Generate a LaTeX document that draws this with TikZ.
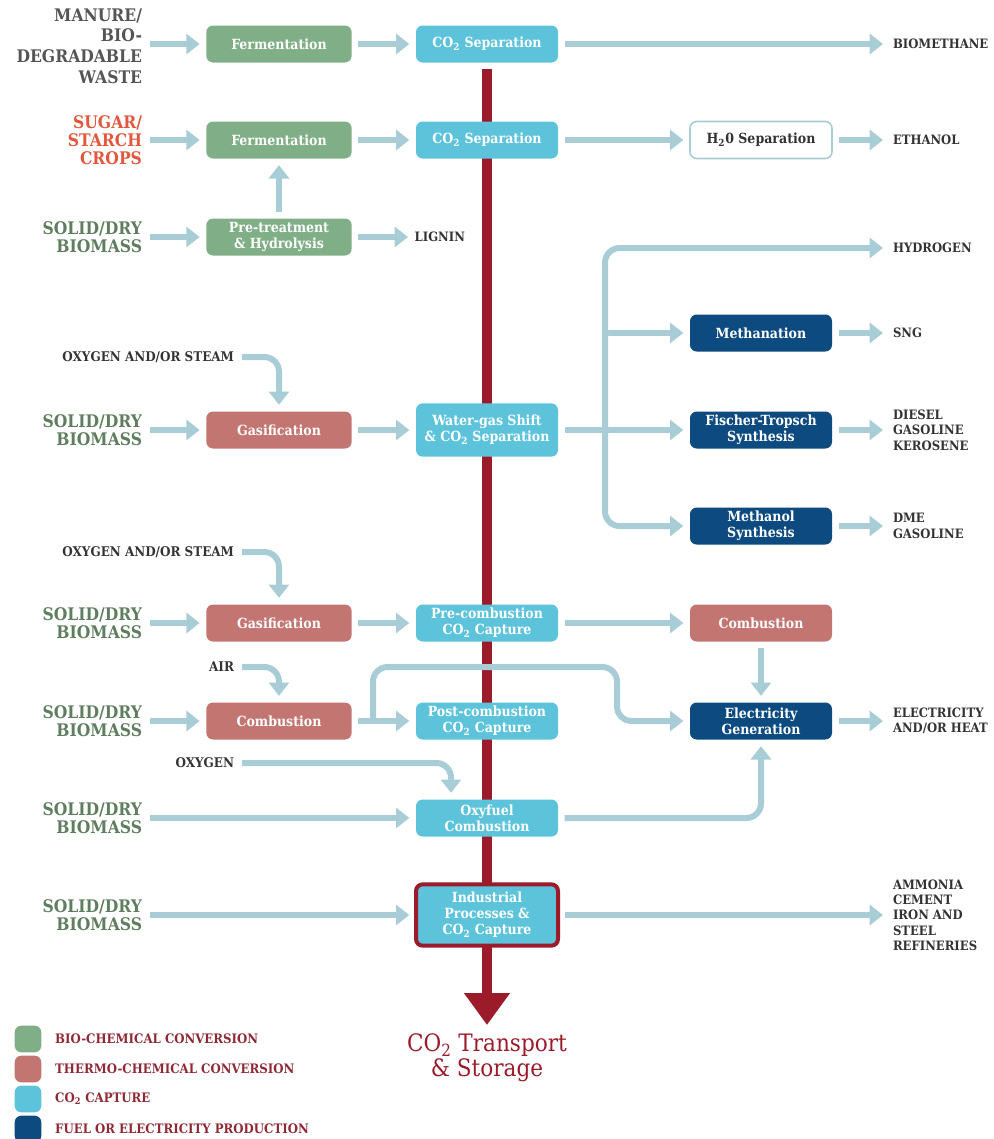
\documentclass[tikz,border=0pt]{standalone}
\usepackage{fontspec}
\setmainfont{DejaVu Serif Condensed}[BoldFont={DejaVu Serif Condensed Bold}]
\usetikzlibrary{arrows.meta,positioning,backgrounds}
\definecolor{BioGreen}{HTML}{80AF87}
\definecolor{ThermoRed}{HTML}{C27571}
\definecolor{CapCyan}{HTML}{5CC3DB}
\definecolor{FuelNavy}{HTML}{0D4A80}
\definecolor{FlowBlue}{HTML}{A8CDD7}
\definecolor{BarRed}{HTML}{9B1B2B}
\definecolor{LegendRed}{HTML}{8E2A35}
\definecolor{TextDark}{HTML}{333333}
\definecolor{WasteGray}{HTML}{555555}
\definecolor{SugarRed}{HTML}{E2573E}
\definecolor{SolidGreen}{HTML}{5F7E5F}
\tikzset{
 box/.style={rounded corners=5pt, minimum width=106.5pt, minimum height=27.75pt, align=center, inner sep=2pt, outer sep=5pt, text=white, font=\fontsize{10.5}{12}\selectfont\bfseries},
 biobox/.style={box, fill=BioGreen, minimum width=109pt},
 thermobox/.style={box, fill=ThermoRed, minimum width=109pt},
 capbox/.style={box, fill=CapCyan},
 fuelbox/.style={box, fill=FuelNavy},
 feed/.style={anchor=east, align=right, inner sep=0pt, outer sep=6pt, font=\fontsize{13}{13.5}\selectfont\bfseries},
 solid/.style={feed, text=SolidGreen},
 prod/.style={anchor=west, align=left, inner sep=0pt, outer sep=7.5pt, text=TextDark, font=\fontsize{9.7}{11.5}\selectfont\bfseries},
 gasin/.style={anchor=east, inner sep=0pt, outer sep=6pt, text=TextDark, font=\fontsize{10}{11}\selectfont\bfseries},
 flow/.style={line width=4.5pt, draw=FlowBlue, -{Triangle[width=15pt,length=10pt]}, rounded corners=11pt},
 bar/.style={line width=7.5pt, draw=BarRed, -{Triangle[width=33pt,length=24pt]}},
 legkey/.style={rounded corners=5pt, minimum size=20pt, inner sep=0pt},
 legtext/.style={inner sep=0pt, text=LegendRed, font=\fontsize{9.8}{11}\selectfont\bfseries}
}
\begin{document}
\begin{tikzpicture}[x=0.75pt, y=-0.75pt]
\useasboundingbox (0,0) rectangle (994,1139);

% feedstocks
\node[feed, text=WasteGray, font=\fontsize{13}{15.5}\selectfont\bfseries] (manure) at (150,46) {MANURE/\\BIO-\\DEGRADABLE\\WASTE};
\node[feed, text=SugarRed] (sugar) at (150,140) {SUGAR/\\STARCH\\CROPS};
\node[solid] (solid3) at (150,237) {SOLID/DRY\\BIOMASS};
\node[solid] (solid5) at (150,430) {SOLID/DRY\\BIOMASS};
\node[solid] (solid7) at (150,623) {SOLID/DRY\\BIOMASS};
\node[solid] (solid8) at (150,721) {SOLID/DRY\\BIOMASS};
\node[solid] (solid9) at (150,818) {SOLID/DRY\\BIOMASS};
\node[solid] (solid10) at (150,915) {SOLID/DRY\\BIOMASS};

\node[gasin] (steam1) at (242,357) {OXYGEN AND/OR STEAM};
\node[gasin] (steam2) at (242,552) {OXYGEN AND/OR STEAM};
\node[gasin] (air) at (242,667) {AIR};
\node[gasin] (oxygen) at (242,763) {OXYGEN};

% conversion
\node[biobox] (ferm1) at (279,44) {Fermentation};
\node[biobox] (ferm2) at (279,140) {Fermentation};
\node[biobox] (pret) at (279,237) {Pre-treatment\\\& Hydrolysis};
\node[thermobox] (gas1) at (279,430) {Gasification};
\node[thermobox] (gas2) at (279,623) {Gasification};
\node[thermobox] (comb1) at (279,721) {Combustion};

% capture
\node[capbox] (sep1) at (487,44) {CO\textsubscript{2} Separation};
\node[capbox] (sep2) at (487,140) {CO\textsubscript{2} Separation};
\node[capbox, minimum height=40pt] (wgs) at (487,430) {Water-gas Shift\\\& CO\textsubscript{2} Separation};
\node[capbox] (precap) at (487,623) {Pre-combustion\\CO\textsubscript{2} Capture};
\node[capbox] (postcap) at (487,721) {Post-combustion\\CO\textsubscript{2} Capture};
\node[capbox] (oxyfuel) at (487,818) {Oxyfuel\\Combustion};
\node[capbox, draw=BarRed, line width=3pt, minimum height=46pt] (indus) at (487,915) {Industrial\\Processes \&\\CO\textsubscript{2} Capture};

% fuel and power
\node[box, fill=white, draw=FlowBlue, line width=1.2pt, text=TextDark] (h2o) at (761,140) {H\textsubscript{2}0 Separation};
\node[fuelbox] (meth) at (761,333) {Methanation};
\node[fuelbox] (ft) at (761,430) {Fischer-Tropsch\\Synthesis};
\node[fuelbox] (methsyn) at (761,526) {Methanol\\Synthesis};
\node[thermobox, minimum width=106.5pt] (comb2) at (761,623) {Combustion};
\node[fuelbox] (elec) at (761,721) {Electricity\\Generation};

% products
\node[prod, outer sep=5pt] (lignin) at (408,237) {LIGNIN};
\node[prod] (biomethane) at (883,44) {BIOMETHANE};
\node[prod] (ethanol) at (883,140) {ETHANOL};
\node[prod] (hydrogen) at (883,248) {HYDROGEN};
\node[prod] (sng) at (883,333) {SNG};
\node[prod] (diesel) at (883,430) {DIESEL\\GASOLINE\\KEROSENE};
\node[prod] (dme) at (883,526) {DME\\GASOLINE};
\node[prod] (heat) at (883,721) {ELECTRICITY\\AND/OR HEAT};
\node[prod] (ammonia) at (883,915) {AMMONIA\\CEMENT\\IRON AND\\STEEL\\REFINERIES};

\node[text=BarRed, align=center, font=\fontsize{18}{19}\selectfont] (storage) at (487,1058) {CO\textsubscript{2} Transport\\\& Storage};
\coordinate (sink) at (487,1025);
\coordinate (trunk) at (605,430);
\coordinate (split) at (373,721);
\coordinate (bend) at (617,667);

% CO2 trunk
\begin{scope}[on background layer]
\draw[bar] (sep1) -- (sink);
\end{scope}

% flows
\draw[flow] (manure.east |- ferm1) -- (ferm1);
\draw[flow] (ferm1) -- (sep1);
\draw[flow] (sep1) -- (biomethane);
\draw[flow] (sugar.east |- ferm2) -- (ferm2);
\draw[flow] (ferm2) -- (sep2);
\draw[flow] (sep2) -- (h2o);
\draw[flow] (h2o) -- (ethanol);
\draw[flow] (solid3.east |- pret) -- (pret);
\draw[flow] (pret) -- (ferm2);
\draw[flow] (pret) -- (lignin);

\draw[flow] (steam1) -| (gas1);
\draw[flow] (solid5.east |- gas1) -- (gas1);
\draw[flow] (gas1) -- (wgs);
\draw[flow] (wgs) -- (ft);
\draw[flow] (trunk) |- (hydrogen);
\draw[flow] (trunk |- meth) -- (meth);
\draw[flow] (trunk) |- (methsyn);
\draw[flow] (meth) -- (sng);
\draw[flow] (ft) -- (diesel);
\draw[flow] (methsyn) -- (dme);

\draw[flow] (steam2) -| (gas2);
\draw[flow] (solid7.east |- gas2) -- (gas2);
\draw[flow] (gas2) -- (precap);
\draw[flow] (precap) -- (comb2);
\draw[flow] (comb2) -- (elec);

\draw[flow] (air) -| (comb1);
\draw[flow] (solid8.east |- comb1) -- (comb1);
\draw[flow] (comb1) -- (postcap);
\draw[flow] (split) |- (bend) |- (elec);
\draw[flow] (elec) -- (heat);

\draw[flow] (oxygen) -| ([xshift=-27pt]oxyfuel.north);
\draw[flow] (solid9.east |- oxyfuel) -- (oxyfuel);
\draw[flow] (oxyfuel) -| (elec);

\draw[flow] (solid10.east |- indus) -- (indus);
\draw[flow] (indus) -- (ammonia);

% legend
\node[legkey, fill=BioGreen] (keybio) at (28,1039) {};
\node[legkey, fill=ThermoRed] (keythermo) at (28,1069) {};
\node[legkey, fill=CapCyan] (keycap) at (28,1099) {};
\node[legkey, fill=FuelNavy] (keyfuel) at (28,1129) {};
\node[legtext, right=10pt of keybio] {BIO-CHEMICAL CONVERSION};
\node[legtext, right=10pt of keythermo] {THERMO-CHEMICAL CONVERSION};
\node[legtext, right=10pt of keycap] {CO\textsubscript{2} CAPTURE};
\node[legtext, right=10pt of keyfuel] {FUEL OR ELECTRICITY PRODUCTION};
\end{tikzpicture}
\end{document}
